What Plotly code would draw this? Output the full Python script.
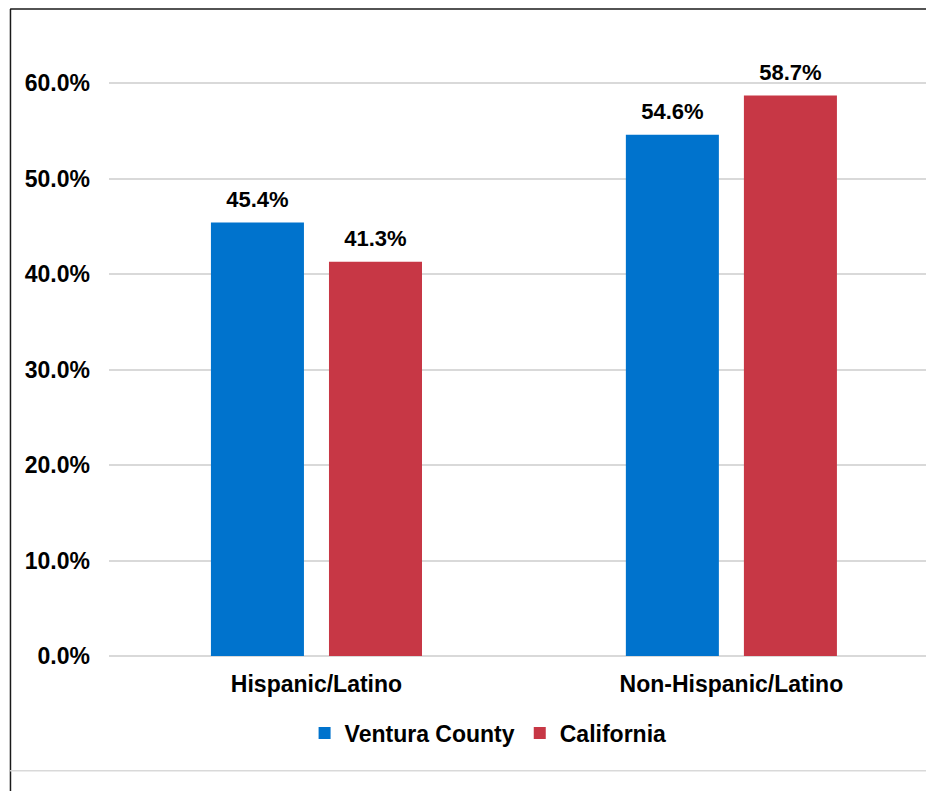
import plotly.graph_objects as go

categories = ["Hispanic/Latino", "Non-Hispanic/Latino"]
ventura = [0.454, 0.546]
california = [0.413, 0.587]
y_ticks = [0, 0.1, 0.2, 0.3, 0.4, 0.5, 0.6]

font_name = "Liberation Sans, Arial, sans-serif"
bold = dict(family=font_name, size=23, color="black", weight="bold")
label_font = dict(family=font_name, size=22, color="black", weight="bold")

fig = go.Figure()
fig.add_trace(go.Bar(name="Ventura County", x=categories, y=ventura,
                     marker_color="#0073CD", marker_line_width=0, offsetgroup="v"))
fig.add_trace(go.Bar(name="California", x=categories, y=california,
                     marker_color="#C73745", marker_line_width=0, offsetgroup="c"))

# value labels, grouped like the bars so they sit centred on them
for vals, grp in [(ventura, "v"), (california, "c")]:
    fig.add_trace(go.Scatter(x=categories, y=vals, mode="markers+text", offsetgroup=grp,
                             text=[f"{v:.1%}" for v in vals], textposition="top center",
                             textfont=label_font, marker=dict(size=14, color="rgba(0,0,0,0)"),
                             showlegend=False, hoverinfo="skip", cliponaxis=False))

# frame lines like the original slide
fig.add_shape(type="line", xref="paper", yref="paper", x0=-0.121, x1=1.01, y0=1.093, y1=1.093,
              line=dict(color="#1a1a1a", width=1.5))
fig.add_shape(type="line", xref="paper", yref="paper", x0=-0.1206, x1=-0.1206, y0=1.093, y1=-0.23,
              line=dict(color="#1a1a1a", width=1.5))
fig.add_shape(type="line", xref="paper", yref="paper", x0=-0.121, x1=1.01, y0=-0.194, y1=-0.194,
              line=dict(color="#d9d9d9", width=1.5))

fig.update_xaxes(range=[-0.5, 1.469], showline=False, showgrid=False, ticks="",
                 tickfont=bold, ticklabelstandoff=12)
fig.update_yaxes(range=[0, 0.62], tickvals=y_ticks, tickformat=".1%", tickfont=bold,
                 showgrid=True, gridcolor="#d9d9d9", gridwidth=1.5,
                 zeroline=True, zerolinecolor="#d9d9d9", zerolinewidth=1.5,
                 showline=False, ticklabelstandoff=18)

fig.update_layout(
    width=918, height=783,
    margin=dict(l=101, r=0, t=56, b=135),
    plot_bgcolor="white", paper_bgcolor="white",
    barmode="group", bargap=0.431, bargroupgap=0.212,
    scattermode="group", scattergap=0.431,
    font=dict(family=font_name),
    showlegend=True,
    legend=dict(orientation="h", x=0.464, xanchor="center", y=-0.13, yanchor="middle",
                font=bold, itemwidth=30, traceorder="normal"),
)

fig.write_html("out.html")
